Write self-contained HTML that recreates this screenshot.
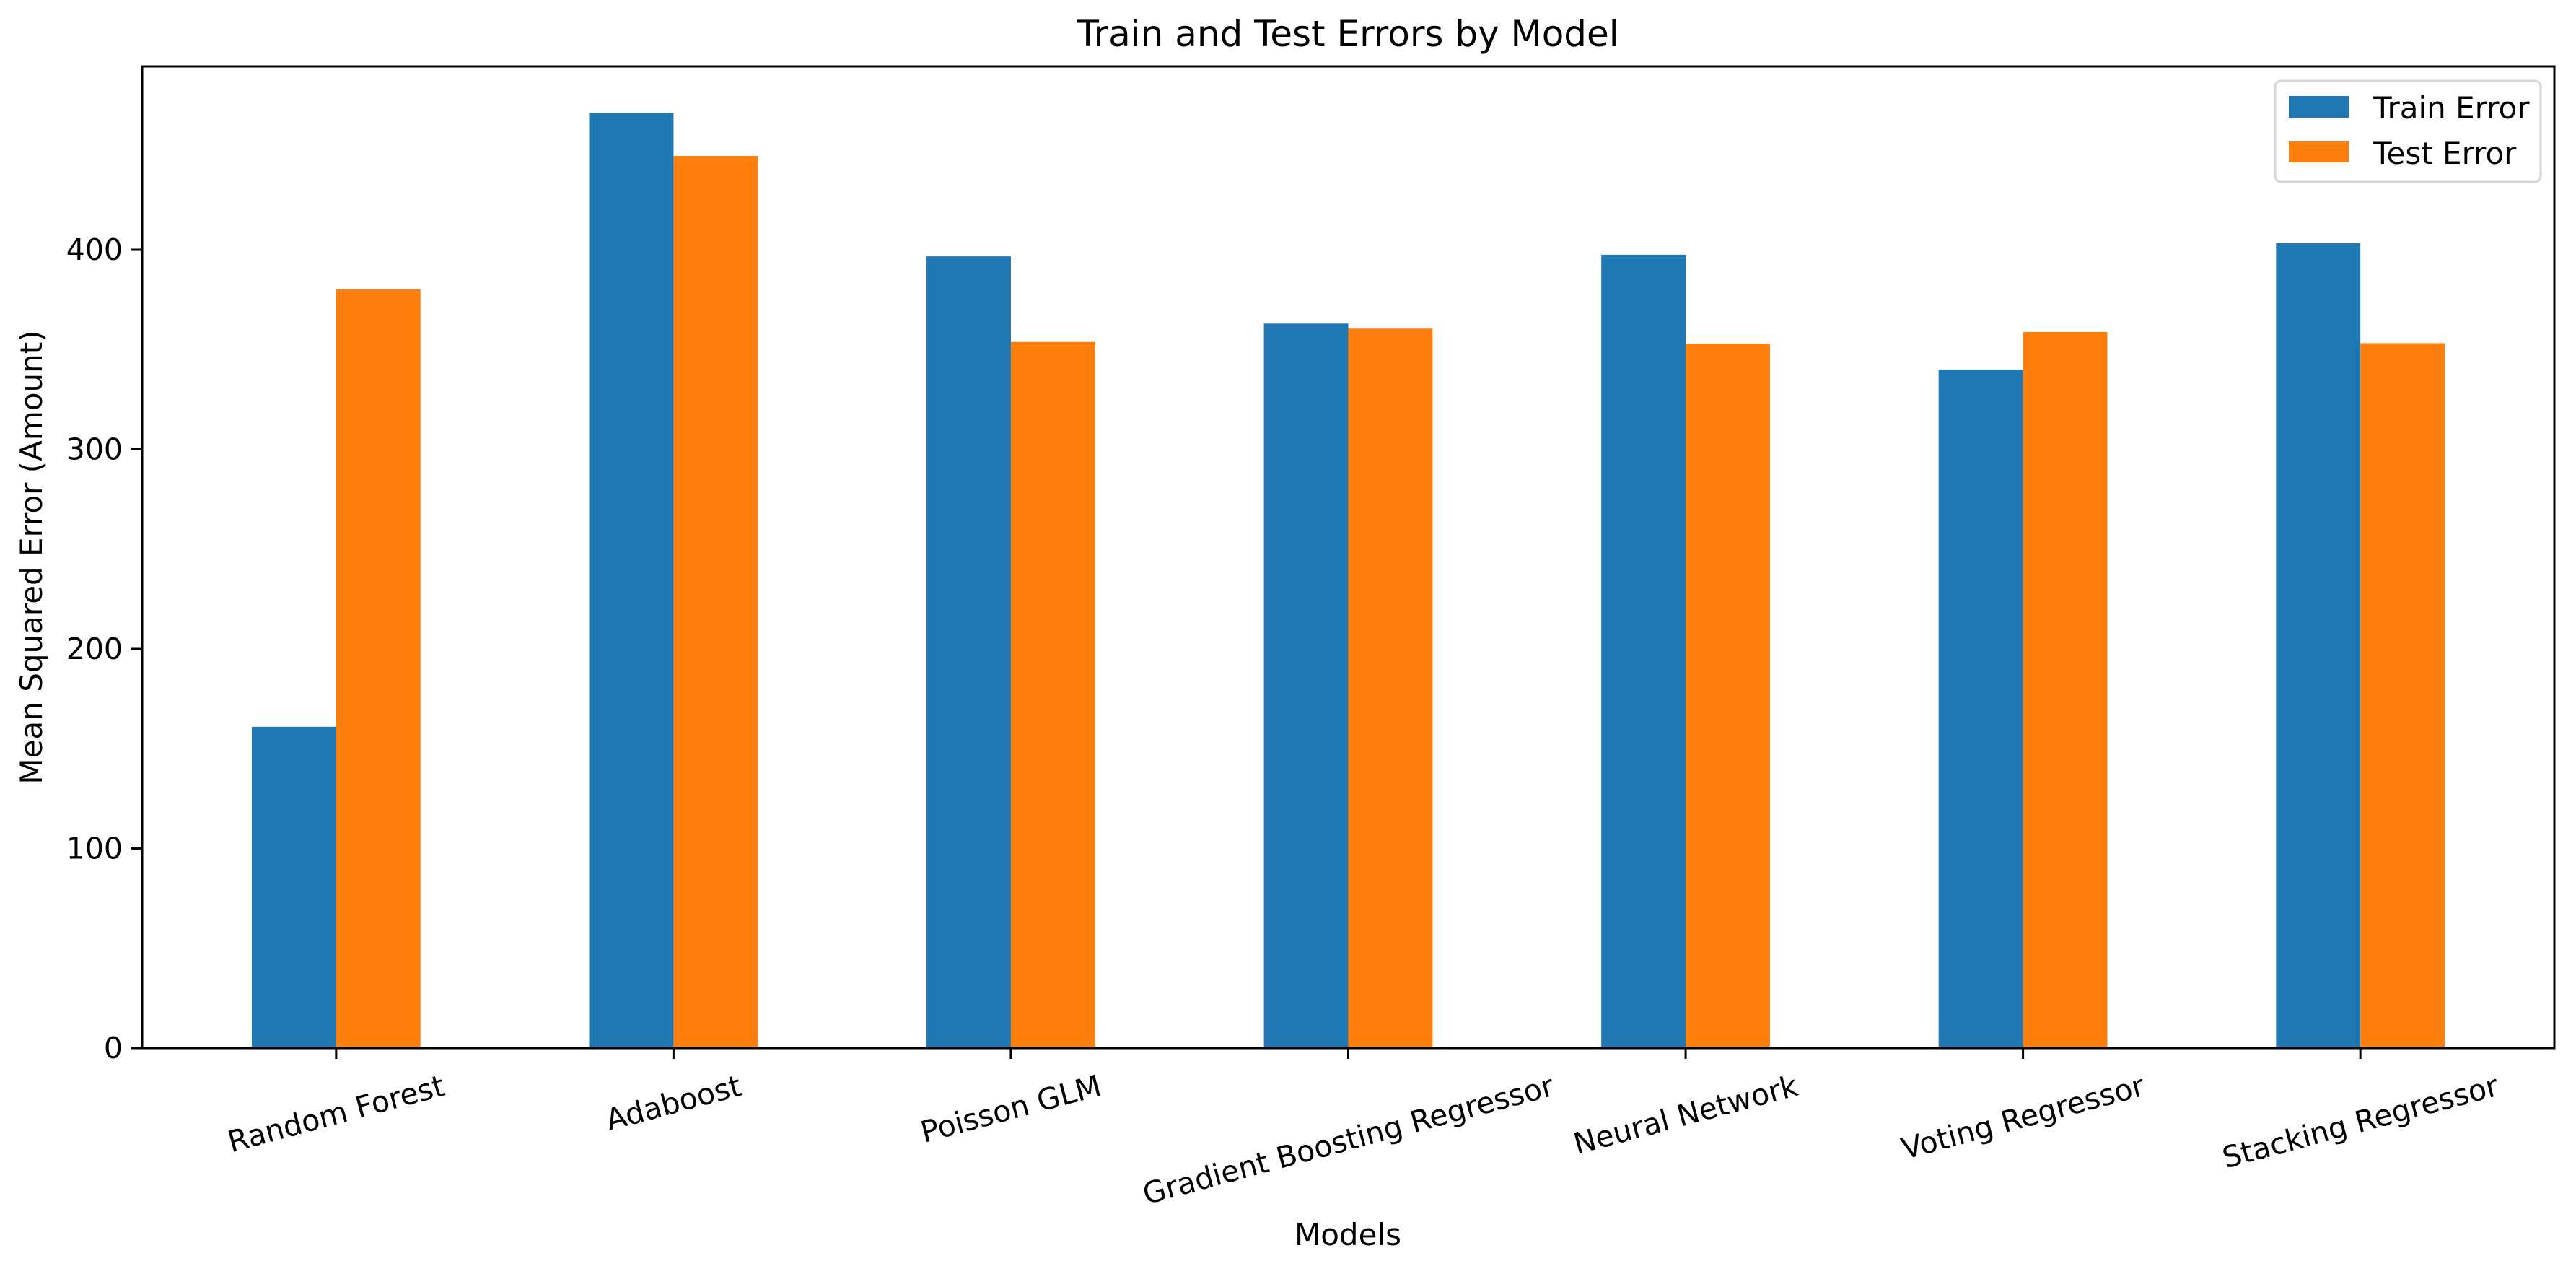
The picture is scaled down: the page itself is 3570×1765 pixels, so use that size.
<!DOCTYPE html>
<html><head><meta charset="utf-8"><style>
html,body{margin:0;padding:0;background:#fff;}
svg{display:block;font-family:"DejaVu Sans","Liberation Sans",sans-serif;}
</style></head><body>
<svg id="chart" width="3570" height="1765" viewBox="0 0 3570 1765" xmlns="http://www.w3.org/2000/svg">
<rect x="0" y="0" width="3570" height="1765" fill="#fff"/>
<text x="1868" y="64" font-size="50" text-anchor="middle">Train and Test Errors by Model</text>
<g id="bars"></g>
<g id="axes"></g>
<text x="1868" y="1725" font-size="42" text-anchor="middle">Models</text>
<text transform="translate(58,772) rotate(-90)" font-size="42" text-anchor="middle">Mean Squared Error (Amount)</text>
<g>
<rect x="3153" y="112" width="368" height="140" rx="8" fill="#fff" fill-opacity="0.8" stroke="#d6d6d6" stroke-width="3"/>
<rect x="3172" y="133" width="83" height="30" fill="#1f77b4"/>
<text x="3289" y="164" font-size="42">Train Error</text>
<rect x="3172" y="196" width="83" height="29" fill="#ff7f0e"/>
<text x="3289" y="227" font-size="42">Test Error</text>
</g>
</svg>
<script>
const categories = ["Random Forest","Adaboost","Poisson GLM","Gradient Boosting Regressor","Neural Network","Voting Regressor","Stacking Regressor"];
const trainError = [161, 468.5, 396.7, 363, 397.5, 340, 403.3];
const testError = [380.2, 447, 353.8, 360.5, 353, 358.8, 353.2];
const yTicks = [0, 100, 200, 300, 400];

const NS = "http://www.w3.org/2000/svg";
const L = 197, R = 3540, T = 92, B = 1452;
const yMax = (B - T) / ((B - 346) / 400);
function y(v){ return B - v / yMax * (B - T); }
const step = (R - L) / (categories.length - 1 + 1.15);
function x(i){ return L + step * (0.575 + i); }
const bw = step * 0.25;
function mk(tag, attrs, parent){ const e = document.createElementNS(NS, tag); for (const k in attrs) e.setAttribute(k, attrs[k]); parent.appendChild(e); return e; }
const gb = document.getElementById('bars');
const ga = document.getElementById('axes');
categories.forEach((c, i) => {
  const cx = x(i);
  const r1 = mk('rect', {x: cx - bw, y: y(trainError[i]), width: bw, height: B - y(trainError[i]), fill: '#1f77b4'}, gb);
  
  
  const r2 = mk('rect', {x: cx, y: y(testError[i]), width: bw, height: B - y(testError[i]), fill: '#ff7f0e'}, gb);
  
  
  const tk = mk('line', {x1: cx, x2: cx, y1: B, y2: B + 15, stroke: '#000', 'stroke-width': 3}, ga);
  
  
  const t = mk('text', {'font-size': 41, 'text-anchor': 'middle', 'dominant-baseline': 'central'}, ga);
  t.textContent = c;
  
  
  const w = t.getComputedTextLength();
  const h = w * Math.sin(15 * Math.PI / 180) + 48 * Math.cos(15 * Math.PI / 180);
  const cy = B + 28 + h / 2;
  t.setAttribute('transform', `translate(${cx},${cy}) rotate(-15)`);
});
yTicks.forEach(v => {
  const tk = mk('line', {x1: L - 15, x2: L, y1: y(v), y2: y(v), stroke: '#000', 'stroke-width': 3}, ga);
  
  
  const t = mk('text', {x: L - 27, y: y(v), 'font-size': 41, 'text-anchor': 'end', 'dominant-baseline': 'central'}, ga);
  t.textContent = v;
  
  
});
const frame = mk('rect', {x: L, y: T, width: R - L, height: B - T, fill: 'none', stroke: '#000', 'stroke-width': 3}, ga);


</script>
</body></html>
